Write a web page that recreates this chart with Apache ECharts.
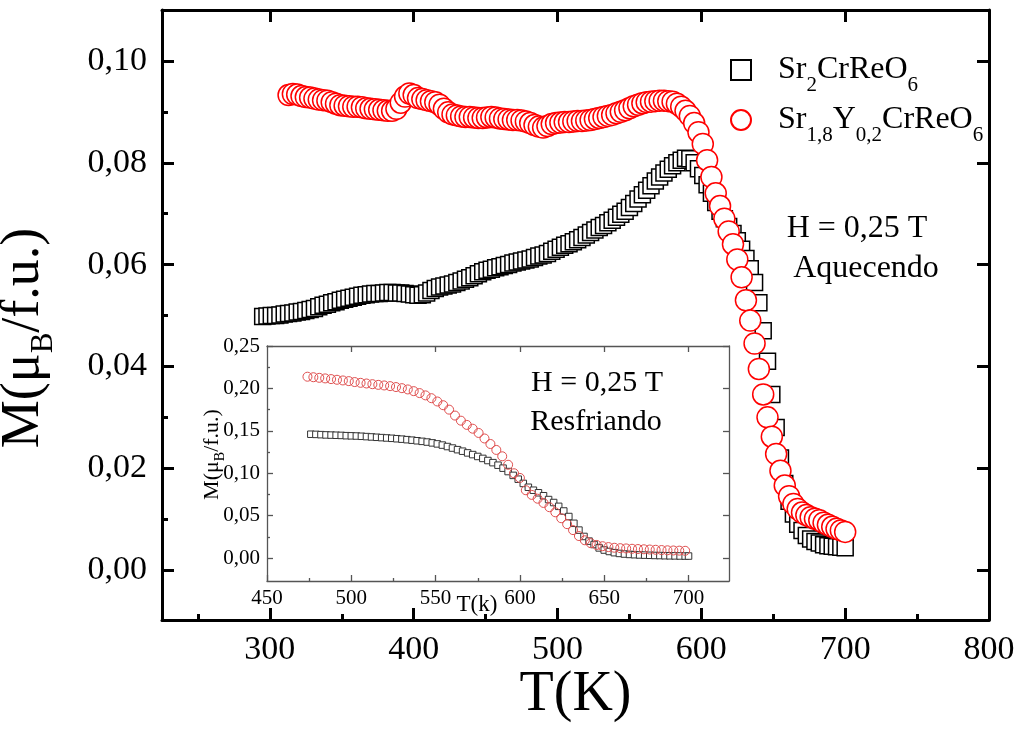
<!DOCTYPE html>
<html>
<head>
<meta charset="utf-8">
<script src="https://cdn.jsdelivr.net/npm/echarts@6/dist/echarts.min.js"></script>
<style>
  html, body { margin: 0; padding: 0; background: #fff; }
  #chart { width: 1017px; height: 734px; }
</style>
</head>
<body>
<div id="chart"></div>
<script>
// heating run (main plot), [T (K), M (muB/f.u.)]
var heatSquare = [
  [295,.0498],[298,.0499],[301,.0500],[304,.0500],[307,.0501],[310,.0503],[313,.0504],[316,.0505],[319,.0507],[322,.0508],
  [325,.0510],[328,.0512],[331,.0514],[334,.0517],[337,.0520],[340,.0522],[343,.0525],[346,.0527],[349,.0530],[352,.0532],
  [355,.0534],[358,.0536],[361,.0538],[364,.0540],[367,.0541],[370,.0542],[373,.0543],[376,.0543],[379,.0544],[382,.0545],
  [385,.0545],[388,.0544],[391,.0544],[394,.0543],[397,.0542],[400,.0541],[403,.0540],[406,.0541],[409,.0544],[412,.0549],
  [415,.0553],[418,.0556],[421,.0558],[424,.0560],[427,.0562],[430,.0565],[433,.0568],[436,.0571],[439,.0574],[442,.0578],
  [445,.0582],[448,.0586],[451,.0589],[454,.0591],[457,.0594],[460,.0596],[463,.0598],[466,.0600],[469,.0603],[472,.0605],
  [475,.0607],[478,.0609],[481,.0611],[484,.0614],[487,.0617],[490,.0619],[493,.0622],[496,.0626],[499,.0630],[502,.0634],
  [505,.0638],[508,.0641],[511,.0645],[514,.0649],[517,.0653],[520,.0658],[523,.0663],[526,.0668],[529,.0673],[532,.0677],
  [535,.0682],[538,.0687],[541,.0693],[544,.0699],[547,.0705],[550,.0712],[553,.0720],[556,.0729],[559,.0737],[562,.0746],
  [565,.0755],[568,.0764],[571,.0772],[574,.0780],[577,.0787],[580,.0794],[583,.0800],[586,.0805],[589,.0809],[592,.0808],
  [595,.0800],[598,.0788],[601,.0775],[604,.0757],[607,.0740],[610,.0722],[613,.0705],[616,.0690],[619,.0675],[622,.0661],
  [625,.0647],[628,.0630],[631,.0612],[634,.0592],[637,.0565],[640,.0525],[643,.0470],[646,.0410],[649,.0345],[652,.0280],
  [655,.0220],[658,.0170],[661,.0135],[664,.0110],[667,.0090],[670,.0078],[673,.0068],[676,.0061],[679,.0056],[682,.0053],
  [685,.0050],[688,.0048],[691,.0047],[694,.0046],[697,.0045],[700,.0044]
];
var heatCircle = [
  [313,.0933],[316,.0935],[319,.0934],[322,.0931],[325,.0929],[328,.0928],[331,.0926],[334,.0924],[337,.0923],[340,.0922],
  [343,.0919],[346,.0916],[349,.0913],[352,.0912],[355,.0911],[358,.0910],[361,.0910],[364,.0909],[367,.0907],[370,.0906],
  [373,.0905],[376,.0904],[379,.0903],[382,.0902],[385,.0902],[388,.0906],[391,.0918],[394,.0930],[397,.0936],[400,.0933],
  [403,.0927],[406,.0925],[409,.0923],[412,.0921],[415,.0919],[418,.0914],[421,.0906],[424,.0899],[427,.0895],[430,.0893],
  [433,.0891],[436,.0890],[439,.0890],[442,.0889],[445,.0888],[448,.0888],[451,.0889],[454,.0890],[457,.0889],[460,.0887],
  [463,.0886],[466,.0885],[469,.0884],[472,.0884],[475,.0883],[478,.0881],[481,.0878],[484,.0874],[487,.0871],[490,.0869],
  [493,.0872],[496,.0876],[499,.0878],[502,.0879],[505,.0880],[508,.0880],[511,.0881],[514,.0882],[517,.0882],[520,.0883],
  [523,.0884],[526,.0886],[529,.0888],[532,.0890],[535,.0892],[538,.0894],[541,.0897],[544,.0900],[547,.0903],[550,.0907],
  [553,.0911],[556,.0914],[559,.0917],[562,.0919],[565,.0920],[568,.0921],[571,.0922],[574,.0922],[577,.0921],[580,.0920],
  [583,.0916],[586,.0910],[589,.0902],[592,.0892],[595,.0878],[598,.0860],[601,.0837],[604,.0805],[607,.0772],[610,.0740],
  [613,.0715],[616,.0690],[619,.0665],[622,.0640],[625,.0610],[628,.0575],[631,.0530],[634,.0490],[637,.0445],[640,.0395],
  [643,.0345],[646,.0300],[649,.0262],[652,.0228],[655,.0195],[658,.0166],[661,.0145],[664,.0130],[667,.0120],[670,.0113],
  [673,.0108],[676,.0104],[679,.0101],[682,.0098],[685,.0093],[688,.0089],[691,.0085],[694,.0081],[697,.0078],[700,.0075]
];

// cooling run (inset)
var coolSquare = [
  [476,.1460],[479,.1458],[482,.1455],[485,.1452],[488,.1450],[491,.1448],[494,.1446],[497,.1443],[500,.1441],[503,.1439],
  [506,.1436],[509,.1432],[512,.1428],[515,.1424],[518,.1420],[521,.1416],[524,.1412],[527,.1407],[530,.1402],[533,.1396],
  [536,.1390],[539,.1383],[542,.1376],[545,.1368],[548,.1358],[551,.1346],[554,.1332],[557,.1315],[560,.1297],[563,.1278],
  [566,.1260],[569,.1240],[572,.1220],[575,.1198],[578,.1175],[581,.1150],[584,.1125],[587,.1095],[590,.1060],[593,.1020],
  [596,.0975],[599,.0930],[602,.0880],[605,.0835],[608,.0800],[611,.0770],[614,.0735],[617,.0690],[620,.0655],[623,.0610],
  [626,.0555],[629,.0490],[632,.0410],[635,.0330],[638,.0255],[641,.0200],[644,.0160],[647,.0120],[650,.0095],[653,.0078],
  [656,.0064],[659,.0055],[662,.0048],[665,.0043],[668,.0040],[671,.0037],[674,.0035],[677,.0033],[680,.0031],[683,.0030],
  [686,.0028],[689,.0027],[692,.0026],[695,.0025],[698,.0024],[700,.0024]
];
var coolCircle = [
  [474,.2138],[477.5,.2132],[481,.2125],[484.5,.2118],[488,.2110],[491.5,.2102],[495,.2094],[498.5,.2086],[502,.2075],
  [505.5,.2066],[509,.2058],[512.5,.2050],[516,.2042],[519.5,.2035],[523,.2027],[526.5,.2016],[530,.2003],[533.5,.1988],
  [537,.1968],[540.5,.1945],[544,.1918],[547.5,.1885],[551,.1846],[554.5,.1802],[558,.1750],[561.5,.1680],[565,.1620],
  [568.5,.1570],[572,.1525],[575.5,.1475],[579,.1410],[582.5,.1345],[586,.1275],[589.5,.1200],[593,.1100],[596.5,.1000],
  [600,.0945],[603.5,.0800],[607,.0745],[610.5,.0700],[614,.0650],[617.5,.0600],[621,.0540],[624.5,.0470],[628,.0400],
  [631.5,.0330],[635,.0260],[638.5,.0210],[642,.0176],[645.5,.0155],[649,.0140],[652.5,.0130],[656,.0122],[659.5,.0117],
  [663,.0114],[666.5,.0110],[670,.0107],[673.5,.0104],[677,.0101],[680.5,.0098],[684,.0095],[687.5,.0092],[691,.0090],
  [694.5,.0088],[698,.0086]
];

var mainMajorT = [300, 400, 500, 600, 700, 800];
var mainMinorT = [250, 350, 450, 550, 650, 750];
var mainMajorM = [0, 0.02, 0.04, 0.06, 0.08, 0.1];
var mainMinorM = [0.01, 0.03, 0.05, 0.07, 0.09];
var insetMajorT = [450, 500, 550, 600, 650, 700];
var insetMinorT = [475, 525, 575, 625, 675];
var insetMajorM = [0, 0.05, 0.1, 0.15, 0.2, 0.25];
var insetMinorM = [0.025, 0.075, 0.125, 0.175, 0.225];

var seriesNames = ['Sr2CrReO6', 'Sr1,8Y0,2CrReO6'];
var legendRich = {
  'Sr2CrReO6': '{b|Sr}{s|2}{b|CrReO}{s|6}',
  'Sr1,8Y0,2CrReO6': '{b|Sr}{s|1,8}{b|Y}{s|0,2}{b|CrReO}{s|6}'
};

var FONT = '"Liberation Serif", "DejaVu Serif", serif';
var comma = function (d) { return function (v) { return v.toFixed(d).replace('.', ','); }; };

// one axis of a frame; ticks only, or ticks + labels
function axis(o) {
  var a = {
    type: 'value', gridIndex: o.grid, position: o.pos, min: o.min, max: o.max,
    axisLine: { show: o.line !== false, onZero: false, lineStyle: { color: o.color, width: o.lw } },
    axisTick: { show: true, inside: true, length: o.tl, customValues: o.ticks, lineStyle: { color: o.color, width: o.lw } },
    axisLabel: { show: false },
    splitLine: { show: false },
    silent: true
  };
  if (o.labels) {
    a.axisLabel = { show: true, customValues: o.labels, fontFamily: FONT, fontSize: o.fs, color: '#000', margin: o.margin, formatter: o.fmt };
  }
  return a;
}

var xAxes = [
  axis({ grid: 0, pos: 'bottom', min: 225, max: 800, color: '#000', lw: 3, tl: 12, ticks: mainMajorT, labels: mainMajorT, fs: 34, margin: 13 }),
  axis({ grid: 0, pos: 'bottom', min: 225, max: 800, color: '#000', lw: 3, tl: 6, ticks: mainMinorT, line: false }),
  axis({ grid: 0, pos: 'top', min: 225, max: 800, color: '#000', lw: 3, tl: 12, ticks: [300, 400, 500, 600, 700] }),
  axis({ grid: 1, pos: 'bottom', min: 450, max: 724, color: '#555', lw: 1.3, tl: 6, ticks: insetMajorT, labels: insetMajorT, fs: 21, margin: 7 }),
  axis({ grid: 1, pos: 'bottom', min: 450, max: 724, color: '#555', lw: 1.3, tl: 3, ticks: insetMinorT, line: false }),
  axis({ grid: 1, pos: 'top', min: 450, max: 724, color: '#555', lw: 1.3, tl: 6, ticks: [500, 550, 600, 650, 700] })
];
var yAxes = [
  axis({ grid: 0, pos: 'left', min: -0.0098, max: 0.11, color: '#000', lw: 3, tl: 12, ticks: mainMajorM, labels: mainMajorM, fs: 34, margin: 15, fmt: comma(2) }),
  axis({ grid: 0, pos: 'left', min: -0.0098, max: 0.11, color: '#000', lw: 3, tl: 6, ticks: mainMinorM, line: false }),
  axis({ grid: 0, pos: 'right', min: -0.0098, max: 0.11, color: '#000', lw: 3, tl: 12, ticks: mainMajorM }),
  axis({ grid: 1, pos: 'left', min: -0.027, max: 0.25, color: '#555', lw: 1.3, tl: 6, ticks: insetMajorM, labels: insetMajorM, fs: 21, margin: 7, fmt: comma(2) }),
  axis({ grid: 1, pos: 'left', min: -0.027, max: 0.25, color: '#555', lw: 1.3, tl: 3, ticks: insetMinorM, line: false }),
  axis({ grid: 1, pos: 'right', min: -0.027, max: 0.25, color: '#555', lw: 1.3, tl: 6, ticks: insetMajorM })
];

// axis names
Object.assign(xAxes[0], {
  name: 'T(K)', nameLocation: 'middle', nameGap: 47, nameMoveOverlap: false,
  nameTextStyle: { fontFamily: FONT, fontSize: 56, color: '#000' }
});
Object.assign(yAxes[0], {
  name: '{b|M(μ}{s|B}{b|/f.u.)}', nameLocation: 'middle', nameGap: 103, nameMoveOverlap: false,
  nameTextStyle: {
    fontFamily: FONT, color: '#000', padding: [0, 46, 0, 0],
    rich: {
      b: { fontFamily: FONT, fontSize: 54, lineHeight: 70, color: '#000' },
      s: { fontFamily: FONT, fontSize: 31, lineHeight: 31, verticalAlign: 'bottom', color: '#000' }
    }
  }
});
Object.assign(xAxes[3], {
  name: 'T(k)', nameLocation: 'middle', nameGap: 12, nameMoveOverlap: false,
  nameTextStyle: { fontFamily: FONT, fontSize: 23, color: '#000', padding: [0, 42, 0, 0] }
});
Object.assign(yAxes[3], {
  name: '{b|M(μ}{s|B}{b|/f.u.)}', nameLocation: 'middle', nameGap: 40, nameMoveOverlap: false,
  nameTextStyle: {
    fontFamily: FONT, color: '#000', padding: [0, 0, 0, 18],
    rich: {
      b: { fontFamily: FONT, fontSize: 22, lineHeight: 30, color: '#000' },
      s: { fontFamily: FONT, fontSize: 14, lineHeight: 14, verticalAlign: 'bottom', color: '#000' }
    }
  }
});

var option = {
  animation: false,
  backgroundColor: '#fff',
  grid: [
    { left: 162, top: 10, right: 28, bottom: 114, outerBoundsMode: 'none' },
    { left: 267, top: 346, right: 288, bottom: 153, show: true, backgroundColor: '#fff', borderWidth: 0, outerBoundsMode: 'none' }
  ],
  xAxis: xAxes,
  yAxis: yAxes,
  legend: {
    data: seriesNames,
    orient: 'vertical',
    left: 730, top: 54, padding: 0,
    itemGap: 8, itemWidth: 20, itemHeight: 20,
    selectedMode: false,
    formatter: function (n) { return legendRich[n]; },
    textStyle: {
      fontFamily: FONT, fontSize: 32, color: '#000', padding: [0, 0, 0, 22],
      rich: {
        b: { fontFamily: FONT, fontSize: 32, lineHeight: 52, color: '#000' },
        s: { fontFamily: FONT, fontSize: 21, lineHeight: 21, verticalAlign: 'bottom', color: '#000' }
      }
    }
  },
  graphic: [
    { type: 'text', x: 857, y: 229, silent: true, style: { text: 'H = 0,25 T', font: '32px ' + FONT, fill: '#000', align: 'center', verticalAlign: 'middle' } },
    { type: 'text', x: 866, y: 269, silent: true, style: { text: 'Aquecendo', font: '32px ' + FONT, fill: '#000', align: 'center', verticalAlign: 'middle' } },
    { type: 'text', x: 597, y: 383, silent: true, style: { text: 'H = 0,25 T', font: '30px ' + FONT, fill: '#000', align: 'center', verticalAlign: 'middle' } },
    { type: 'text', x: 596, y: 422, silent: true, style: { text: 'Resfriando', font: '30px ' + FONT, fill: '#000', align: 'center', verticalAlign: 'middle' } }
  ],
  series: [
    {
      name: seriesNames[0], type: 'scatter', xAxisIndex: 0, yAxisIndex: 0,
      symbol: 'rect', symbolSize: 16, data: heatSquare, silent: true,
      itemStyle: { color: '#fff', borderColor: '#000', borderWidth: 1.5, opacity: 1 }
    },
    {
      name: seriesNames[1], type: 'scatter', xAxisIndex: 0, yAxisIndex: 0,
      symbol: 'circle', symbolSize: 21, data: heatCircle, silent: true,
      itemStyle: { color: '#fff', borderColor: '#f00', borderWidth: 1.5, opacity: 1 }
    },
    {
      name: 'inset-square', type: 'scatter', xAxisIndex: 3, yAxisIndex: 3,
      symbol: 'rect', symbolSize: 6.5, data: coolSquare, silent: true,
      itemStyle: { color: '#fff', borderColor: '#333', borderWidth: 1, opacity: 1 }
    },
    {
      name: 'inset-circle', type: 'scatter', xAxisIndex: 3, yAxisIndex: 3,
      symbol: 'circle', symbolSize: 9, data: coolCircle, silent: true,
      itemStyle: { color: 'rgba(255,255,255,0)', borderColor: '#e05050', borderWidth: 1, opacity: 1 }
    }
  ]
};

var chart = echarts.init(document.getElementById('chart'));
chart.setOption(option);
</script>
</body>
</html>
